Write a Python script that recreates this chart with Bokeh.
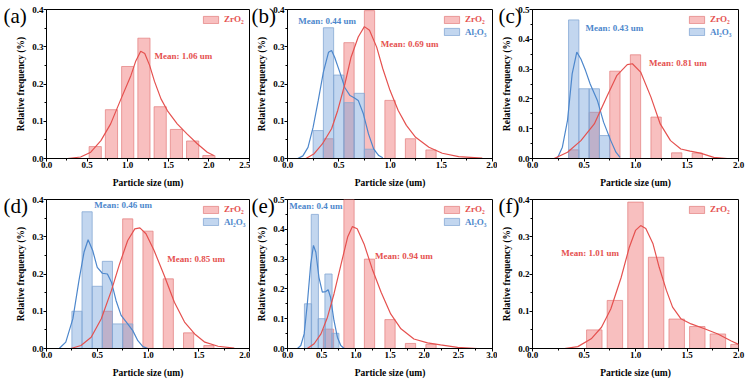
from bokeh.plotting import figure
from bokeh.layouts import row, column
from bokeh.models import Legend, LegendItem, Label, Range1d, SingleIntervalTicker, NumeralTickFormatter
from bokeh.embed import file_html
from bokeh.resources import INLINE

# ---------------- data ----------------
panel_tags = ["(a)", "(b)", "(c)", "(d)", "(e)", "(f)"]
zr_label = "ZrO₂"
al_label = "Al₂O₃"
x_title = "Particle size (um)"
y_title = "Relative frequency (%)"

a_zr_x = [0.6, 0.8, 1.0, 1.2, 1.4, 1.6, 1.8, 2.0]
a_zr_y = [0.032, 0.131, 0.247, 0.323, 0.139, 0.078, 0.047, 0.008]
a_zr_fit_x = [0.26, 0.42, 0.545, 0.67, 0.79, 0.91, 1.04, 1.10, 1.16, 1.21, 1.27, 1.33, 1.41, 1.49, 1.61, 1.73, 1.86, 1.98, 2.06]
a_zr_fit_y = [0.0, 0.004, 0.017, 0.048, 0.093, 0.156, 0.223, 0.262, 0.288, 0.282, 0.25, 0.207, 0.16, 0.128, 0.093, 0.066, 0.039, 0.017, 0.008]

b_zr_x = [0.4, 0.6, 0.8, 1.0, 1.2, 1.4]
b_zr_y = [0.053, 0.311, 0.397, 0.156, 0.053, 0.023]
b_al_x = [0.3, 0.4, 0.5, 0.6, 0.7, 0.8]
b_al_y = [0.075, 0.351, 0.224, 0.15, 0.175, 0.025]
b_zr_fit_x = [0.18, 0.26, 0.34, 0.43, 0.49, 0.56, 0.62, 0.69, 0.75, 0.80, 0.87, 0.93, 1.0, 1.08, 1.16, 1.25, 1.38, 1.51, 1.67, 1.9]
b_zr_fit_y = [0.0, 0.013, 0.039, 0.08, 0.129, 0.2, 0.272, 0.326, 0.354, 0.344, 0.299, 0.241, 0.183, 0.129, 0.089, 0.057, 0.03, 0.014, 0.005, 0.001]
b_al_fit_x = [0.1, 0.15, 0.2, 0.25, 0.3, 0.35, 0.4, 0.43, 0.46, 0.51, 0.56, 0.61, 0.65, 0.69, 0.74, 0.79, 0.84, 0.89, 0.93]
b_al_fit_y = [0.0, 0.007, 0.03, 0.084, 0.156, 0.232, 0.285, 0.29, 0.272, 0.232, 0.19, 0.169, 0.163, 0.156, 0.12, 0.066, 0.026, 0.008, 0.002]

c_zr_x = [0.4, 0.6, 0.8, 1.0, 1.2, 1.4, 1.6]
c_zr_y = [0.029, 0.155, 0.293, 0.348, 0.139, 0.019, 0.018]
c_al_x = [0.4, 0.5, 0.6, 0.7]
c_al_y = [0.465, 0.234, 0.234, 0.077]
c_zr_fit_x = [0.21, 0.34, 0.47, 0.6, 0.72, 0.82, 0.92, 0.97, 1.05, 1.15, 1.24, 1.34, 1.44, 1.53, 1.63, 1.76, 1.89]
c_zr_fit_y = [0.0, 0.021, 0.06, 0.116, 0.206, 0.279, 0.315, 0.318, 0.29, 0.206, 0.116, 0.06, 0.032, 0.025, 0.018, 0.004, 0.0]
c_al_fit_x = [0.24, 0.29, 0.34, 0.385, 0.43, 0.47, 0.515, 0.56, 0.63, 0.69, 0.76, 0.81, 0.85]
c_al_fit_y = [0.0, 0.038, 0.128, 0.284, 0.357, 0.334, 0.295, 0.25, 0.195, 0.122, 0.06, 0.021, 0.004]

d_zr_x = [0.6, 0.8, 1.0, 1.2, 1.4, 1.6]
d_zr_y = [0.1, 0.348, 0.315, 0.187, 0.042, 0.008]
d_al_x = [0.3, 0.4, 0.5, 0.6, 0.7, 0.8]
d_al_y = [0.1, 0.367, 0.167, 0.234, 0.066, 0.066]
d_zr_fit_x = [0.24, 0.34, 0.44, 0.54, 0.64, 0.72, 0.8, 0.87, 0.92, 0.98, 1.06, 1.16, 1.26, 1.36, 1.46, 1.56, 1.69, 1.85]
d_zr_fit_y = [0.0, 0.008, 0.03, 0.08, 0.156, 0.227, 0.29, 0.321, 0.324, 0.308, 0.263, 0.196, 0.124, 0.071, 0.039, 0.017, 0.006, 0.001]
d_al_fit_x = [0.125, 0.19, 0.26, 0.32, 0.37, 0.41, 0.455, 0.5, 0.55, 0.6, 0.64, 0.685, 0.735, 0.8, 0.85, 0.9, 0.95, 1.0]
d_al_fit_y = [0.0, 0.017, 0.08, 0.183, 0.259, 0.292, 0.263, 0.218, 0.202, 0.2, 0.178, 0.129, 0.089, 0.066, 0.048, 0.021, 0.005, 0.0]

e_zr_x = [0.6, 0.9, 1.2, 1.5, 1.8, 2.1]
e_zr_y = [0.065, 0.5, 0.3, 0.097, 0.017, 0.014]
e_al_x = [0.3, 0.4, 0.5, 0.6, 0.7]
e_al_y = [0.15, 0.45, 0.1, 0.25, 0.051]
e_zr_fit_x = [0.29, 0.39, 0.49, 0.585, 0.68, 0.78, 0.88, 0.95, 1.02, 1.12, 1.24, 1.37, 1.51, 1.66, 1.85, 2.05, 2.24, 2.49, 2.78]
e_zr_fit_y = [0.0, 0.016, 0.049, 0.105, 0.183, 0.279, 0.374, 0.409, 0.402, 0.351, 0.267, 0.189, 0.116, 0.066, 0.032, 0.019, 0.012, 0.004, 0.0]
e_al_fit_x = [0.146, 0.195, 0.244, 0.29, 0.34, 0.38, 0.415, 0.46, 0.51, 0.56, 0.595, 0.63, 0.68, 0.73, 0.78, 0.83]
e_al_fit_y = [0.0, 0.01, 0.049, 0.15, 0.284, 0.346, 0.323, 0.239, 0.189, 0.191, 0.197, 0.172, 0.094, 0.038, 0.01, 0.0]

f_zr_x = [0.6, 0.8, 1.0, 1.2, 1.4, 1.6, 1.8, 2.0]
f_zr_y = [0.05, 0.129, 0.393, 0.245, 0.079, 0.059, 0.039, 0.011]
f_zr_fit_x = [0.31, 0.44, 0.57, 0.67, 0.76, 0.86, 0.94, 1.0, 1.05, 1.1, 1.17, 1.23, 1.3, 1.36, 1.44, 1.54, 1.67, 1.8, 1.93, 2.0]
f_zr_fit_y = [0.0, 0.005, 0.026, 0.057, 0.106, 0.19, 0.272, 0.317, 0.33, 0.322, 0.281, 0.218, 0.156, 0.111, 0.08, 0.066, 0.053, 0.039, 0.02, 0.011]

x_max = [2.5, 2.0, 2.0, 2.0, 3.0, 2.0]
y_max = [0.4, 0.4, 0.5, 0.4, 0.5, 0.4]

zr_means = ["Mean: 1.06 um", "Mean: 0.69 um", "Mean: 0.81 um", "Mean: 0.85 um", "Mean: 0.94 um", "Mean: 1.01 um"]
zr_mean_pos = [(1.33, 0.274), (0.91, 0.308), (1.13, 0.321), (1.19, 0.239), (1.28, 0.309), (0.28, 0.257)]
al_means = [None, "Mean: 0.44 um", "Mean: 0.43 um", "Mean: 0.46 um", "Mean: 0.4 um", None]
al_mean_pos = [None, (0.105, 0.369), (0.515, 0.438), (0.47, 0.384), (0.025, 0.477), None]

# ---------------- styling / layout ----------------
SERIF = "Liberation Serif"
RED_FILL = "#f07272"
RED_LINE = "#e27c7c"
RED_CURVE = "#e5514f"
BLUE_FILL = "#6d9ed8"
BLUE_LINE = "#86a9d4"
BLUE_CURVE = "#4d87cc"

col_start = [0, 250, 497]
col_width = [250, 247, 253]
frame_l = [46, 287, 532]
frame_r = [249, 492, 738]
tag_left = [3, 251, 498]
row_start = [0, 190]
row_height = [190, 192]
frame_t = [9, 199]
frame_b = [158, 348]

panels = [
    dict(zr=(a_zr_x, a_zr_y, 0.15), al=None, zr_fit=(a_zr_fit_x, a_zr_fit_y), al_fit=None),
    dict(zr=(b_zr_x, b_zr_y, 0.1), al=(b_al_x, b_al_y, 0.1), zr_fit=(b_zr_fit_x, b_zr_fit_y), al_fit=(b_al_fit_x, b_al_fit_y)),
    dict(zr=(c_zr_x, c_zr_y, 0.1), al=(c_al_x, c_al_y, 0.1), zr_fit=(c_zr_fit_x, c_zr_fit_y), al_fit=(c_al_fit_x, c_al_fit_y)),
    dict(zr=(d_zr_x, d_zr_y, 0.1), al=(d_al_x, d_al_y, 0.1), zr_fit=(d_zr_fit_x, d_zr_fit_y), al_fit=(d_al_fit_x, d_al_fit_y)),
    dict(zr=(e_zr_x, e_zr_y, 0.15), al=(e_al_x, e_al_y, 0.105), zr_fit=(e_zr_fit_x, e_zr_fit_y), al_fit=(e_al_fit_x, e_al_fit_y)),
    dict(zr=(f_zr_x, f_zr_y, 0.15), al=None, zr_fit=(f_zr_fit_x, f_zr_fit_y), al_fit=None),
]

def style_axis(ax):
    ax.axis_line_color = "black"
    ax.axis_line_width = 1
    ax.major_tick_line_color = "black"
    ax.minor_tick_line_color = "black"
    ax.major_tick_in = 0
    ax.major_tick_out = 3
    ax.minor_tick_in = 0
    ax.minor_tick_out = 2
    ax.major_label_standoff = 0
    ax.major_label_text_font = SERIF
    ax.major_label_text_font_style = "bold"
    ax.major_label_text_font_size = "9px"
    ax.major_label_text_color = "black"
    ax.axis_label_text_font = SERIF
    ax.axis_label_text_font_style = "bold"
    ax.axis_label_text_font_size = "9.5px"
    ax.axis_label_text_color = "black"

def add_legend(p, rend, text, color, fx, fy_top, fh):
    item_h = 11
    lg = Legend(items=[LegendItem(label=text, renderers=[rend])],
                location=(fx, fh - fy_top - item_h / 2),
                glyph_width=19, glyph_height=9, label_height=9, label_width=10,
                label_standoff=4, padding=0, spacing=0, margin=0,
                border_line_color=None, background_fill_alpha=0,
                label_text_font=SERIF, label_text_font_style="bold",
                label_text_font_size="9px", label_text_color=color)
    p.add_layout(lg)

figs = []
for i, cfg in enumerate(panels):
    r, c = divmod(i, 3)
    fw = frame_r[c] - frame_l[c]
    fh = frame_b[r] - frame_t[r]
    p = figure(width=col_width[c], height=row_height[r],
               x_range=Range1d(0, x_max[i]), y_range=Range1d(0, y_max[i]),
               output_backend="svg", toolbar_location=None,
               min_border_left=frame_l[c] - col_start[c],
               min_border_right=col_start[c] + col_width[c] - frame_r[c],
               min_border_top=frame_t[r] - row_start[r],
               min_border_bottom=row_start[r] + row_height[r] - frame_b[r])
    p.xgrid.visible = False
    p.ygrid.visible = False
    p.outline_line_color = "black"
    p.outline_line_alpha = 1
    p.outline_line_width = 1
    p.background_fill_color = "white"
    p.border_fill_color = "white"

    p.xaxis.ticker = SingleIntervalTicker(interval=0.5, num_minor_ticks=2)
    p.yaxis.ticker = SingleIntervalTicker(interval=0.1, num_minor_ticks=2)
    p.xaxis.formatter = NumeralTickFormatter(format="0.0")
    p.yaxis.formatter = NumeralTickFormatter(format="0.0")
    p.xaxis.axis_label = x_title
    p.yaxis.axis_label = y_title
    style_axis(p.xaxis[0])
    style_axis(p.yaxis[0])
    p.xaxis.axis_label_standoff = 7
    p.yaxis.axis_label_standoff = 3

    zx, zy, zw = cfg["zr"]
    zr_bars = p.vbar(x=zx, top=zy, width=zw, bottom=0, fill_color=RED_FILL, fill_alpha=0.45,
                     line_color=RED_LINE, line_alpha=0.7, line_width=1)
    al_bars = None
    if cfg["al"] is not None:
        ax_, ay_, aw = cfg["al"]
        al_bars = p.vbar(x=ax_, top=ay_, width=aw, bottom=0, fill_color=BLUE_FILL, fill_alpha=0.42,
                         line_color=BLUE_LINE, line_alpha=0.8, line_width=1)
    if cfg["al_fit"] is not None:
        p.line(cfg["al_fit"][0], cfg["al_fit"][1], line_color=BLUE_CURVE, line_width=1.2)
    p.line(cfg["zr_fit"][0], cfg["zr_fit"][1], line_color=RED_CURVE, line_width=1.2)

    add_legend(p, zr_bars, zr_label, RED_CURVE, 155, 9.5, fh)
    if al_bars is not None:
        add_legend(p, al_bars, al_label, BLUE_CURVE, 155, 22, fh)

    mx, my = zr_mean_pos[i]
    p.add_layout(Label(x=mx, y=my, text=zr_means[i], text_color=RED_CURVE, text_font=SERIF,
                       text_font_style="bold", text_font_size="9px", text_baseline="middle",
                       text_align="left"))
    if al_means[i] is not None:
        bx, by = al_mean_pos[i]
        p.add_layout(Label(x=bx, y=by, text=al_means[i], text_color=BLUE_CURVE, text_font=SERIF,
                           text_font_style="bold", text_font_size="9px", text_baseline="middle",
                           text_align="left"))

    # panel tag as the figure title, pulled into the top-left corner (not clipped by the frame)
    p.title.text = panel_tags[i]
    p.title.text_font = SERIF
    p.title.text_font_style = "normal"
    p.title.text_font_size = "21px"
    p.title.text_color = "black"
    p.title.align = "left"
    p.title.vertical_align = "bottom"
    p.title.offset = tag_left[c] - frame_l[c]
    p.title.standoff = -36
    figs.append(p)

layout = column(row(figs[0], figs[1], figs[2]), row(figs[3], figs[4], figs[5]))
open("out.html", "w").write(file_html(layout, INLINE))
